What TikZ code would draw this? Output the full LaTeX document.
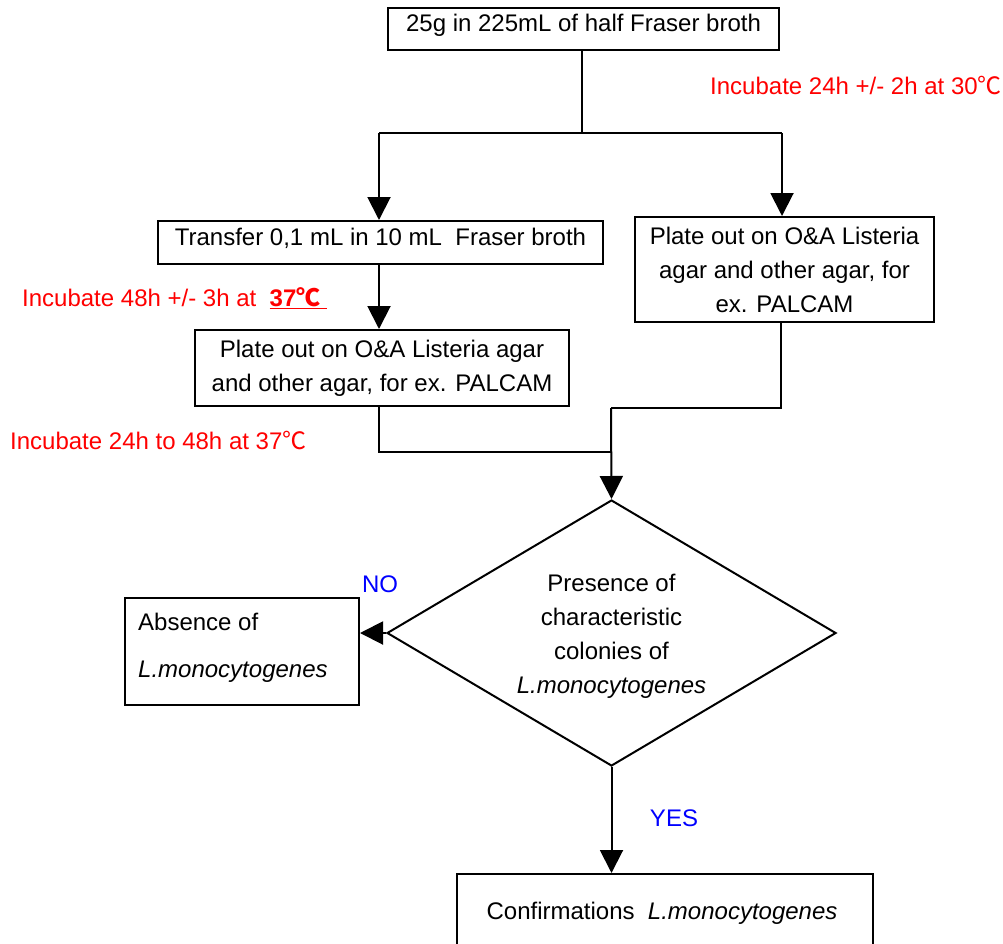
\documentclass[tikz,border=0pt]{standalone}
\usepackage{fontspec}
\setmainfont{Liberation Sans}
\newfontfamily\cjkfont{Noto Sans CJK SC}
\usetikzlibrary{arrows.meta,shapes.geometric}
\newcommand{\degc}{{\cjkfont ℃}}
\tikzset{
  box/.style={draw, line width=2pt, inner sep=0pt, align=center},
  ln/.style={line width=2pt},
  arr/.style={line width=2pt, -{Triangle[width=23pt,length=23pt]}},
  redtxt/.style={text=red, inner sep=0pt},
  bluetxt/.style={text=blue, inner sep=0pt},
  onel/.style={text height=17pt, text depth=11pt}
}
\begin{document}
\begin{tikzpicture}[x=1pt,y=-1pt, font=\fontsize{24}{34}\selectfont]
\useasboundingbox (0,0) rectangle (1003,944);
% boxes
\node[box, onel, minimum width=391pt, minimum height=42pt] (b1) at (583.5,29) {25g in 225mL of half Fraser broth};
\node[box, onel, minimum width=445pt, minimum height=43pt] (b2) at (380.5,242.5) {Transfer 0,1 mL in 10 mL\ \ Fraser broth};
\node[box, minimum width=374pt, minimum height=76pt] (b3) at (382,368) {Plate out on O\&A Listeria agar\\and other agar, for ex. PALCAM};
\node[box, minimum width=299pt, minimum height=105pt] (bR) at (784.5,269.5) {Plate out on O\&A Listeria\\agar and other agar, for\\ex. PALCAM};
\node[draw, diamond, line width=2pt, inner sep=0pt, minimum width=449pt, minimum height=266pt] (dia) at (611.5,633) {};
\node[align=center, inner sep=0pt] (diat) at (611.5,636.5) {Presence of\\characteristic\\colonies of\\\textit{L.monocytogenes}};
\node[box, minimum width=234pt, minimum height=107pt] (abs) at (242,651.5) {};
\node[anchor=west, align=left, inner sep=0pt] (abst) at (138,648) {Absence of\\[13pt]\textit{L.monocytogenes}};
\node[box, minimum width=416pt, minimum height=120pt, anchor=north] (conf) at (665,873) {};
\node[anchor=base, inner sep=0pt] (conft) at (662,919) {Confirmations\ \ \textit{L.monocytogenes}};
% red / blue labels
\node[redtxt, anchor=base west] (inc1) at (710,95) {Incubate 24h +/- 2h at 30\degc};
\node[redtxt, anchor=base west] (inc2) at (22,306) {Incubate 48h +/- 3h at\ \ \underline{\textbf{37\degc}\ }};
\node[redtxt, anchor=base west] (inc3) at (10,449) {Incubate 24h to 48h at 37\degc};
\node[bluetxt, anchor=base] (no) at (380,592) {NO};
\node[bluetxt, anchor=base] (yes) at (674,826) {YES};
% connectors
\coordinate (split) at (582,133);
\coordinate (sL) at (379,133);
\coordinate (sR) at (782,133);
\coordinate (m0) at (611,408);
\coordinate (m1) at (611,452);
\coordinate (cR) at (781,408);
\draw[ln] (b1.south -| split) -- (split);
\draw[ln] (sL) -- (sR);
\draw[arr] (sL) -- (sL |- b2.north);
\draw[arr] (sR) -- (sR |- bR.north);
\draw[arr] (b2.south -| sL) -- (sL |- b3.north);
\draw[ln] (b3.south -| sL) |- (m1);
\draw[ln] (bR.south -| cR) -- (cR) -- (m0);
\draw[arr] (m0) -- (dia.north);
\draw[arr] (dia.west) -- (dia.west -| abs.east);
\draw[arr] (dia.south) -- (dia.south |- conf.north);
\end{tikzpicture}
\end{document}
